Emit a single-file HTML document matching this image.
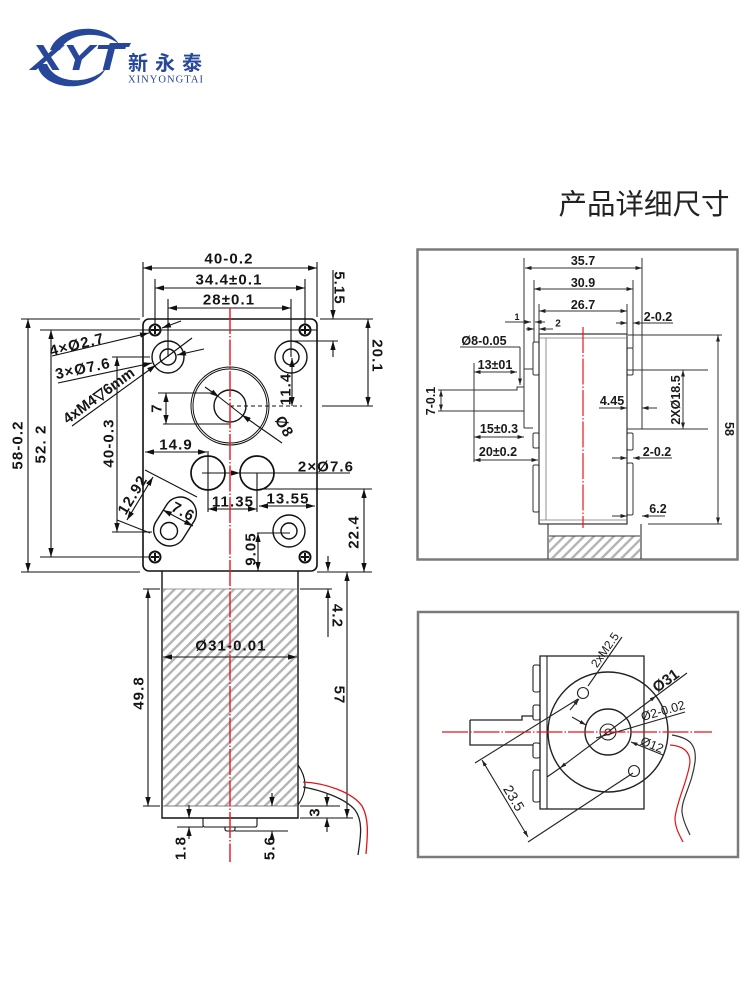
<!DOCTYPE html>
<html><head><meta charset="utf-8">
<style>
html,body{margin:0;padding:0;background:#fff;}
svg{display:block;}
.d text{font-family:"Liberation Sans",sans-serif;font-weight:bold;font-size:15px;fill:#151515;text-anchor:middle;dominant-baseline:central;letter-spacing:1.1px}
.s text{font-family:"Liberation Sans",sans-serif;font-weight:bold;font-size:12.5px;fill:#1a1a1a;text-anchor:middle;dominant-baseline:central}
.r{font-family:"Liberation Sans",sans-serif;font-size:12.5px;fill:#1a1a1a;text-anchor:middle;dominant-baseline:central}
.b2{marker-start:url(#a);marker-end:url(#a)}
.e{marker-end:url(#a)}
.c2{marker-start:url(#b);marker-end:url(#b)}
.f{marker-end:url(#b)}
</style></head><body>
<svg width="750" height="1000" viewBox="0 0 750 1000" xmlns="http://www.w3.org/2000/svg">
<defs>
<marker id="a" viewBox="0 0 10 6" refX="10" refY="3" markerWidth="9" markerHeight="5.4" markerUnits="userSpaceOnUse" orient="auto-start-reverse"><path d="M0,0L10,3L0,6z" fill="#111"/></marker>
<marker id="b" viewBox="0 0 10 6" refX="10" refY="3" markerWidth="6.5" markerHeight="3.9" markerUnits="userSpaceOnUse" orient="auto-start-reverse"><path d="M0,0L10,3L0,6z" fill="#222"/></marker>
<pattern id="h" width="7" height="7" patternUnits="userSpaceOnUse" patternTransform="rotate(45)"><rect width="7" height="7" fill="#fff"/><rect width="2.4" height="7" fill="#b4b4b4"/></pattern>
</defs>

<!-- LOGO -->
<g fill="#27479b">
<path d="M50,50 C58,26 104,20 119,44 C102,31 70,31 60,50 Z"/>
<path d="M37,64 C42,92 94,94 106,68 C92,84 56,86 47,64 Z"/>
<text x="31" y="70" font-family="Liberation Sans, sans-serif" font-weight="bold" font-style="italic" font-size="36" textLength="92" lengthAdjust="spacingAndGlyphs">XYT</text>
<polygon points="110,43 131,43 129,47 108,47"/>
<text x="128" y="70" font-family="Liberation Sans, 'Noto Sans CJK SC', sans-serif" font-size="20" font-weight="bold" textLength="74">新永泰</text>
<text x="128" y="82.5" font-family="Liberation Serif, serif" font-size="10.5" textLength="75">XINYONGTAI</text>
</g>

<text x="644" y="205" font-family="Liberation Sans, 'Noto Sans CJK SC', sans-serif" font-size="28.5" fill="#222" text-anchor="middle" dominant-baseline="central">产品详细尺寸</text>

<!-- LEFT DRAWING -->
<rect x="163" y="589" width="134" height="217" fill="url(#h)"/>
<g stroke="#111" stroke-width="1.1" fill="none">
<path d="M143,262V317 M317,262V317 M155,279V324 M305,279V324 M168,299V357 M291,299V357
M21,319H140 M320,319H373 M40,330H317 M293,341H338 M112,357H150 M322,406H373 M158,393H214 M163,424H230 M260,489H372 M112,532H152 M257,533H290 M40,557H149 M21,572H140 M317,572H372
M208,451V512 M257,473V512 M240,473H350 M145,470L197,497 M117,520L150,533"/>
<path d="M230,406H302" stroke-dasharray="4 3"/>
<rect x="143" y="319" width="174" height="252" rx="6" stroke-width="1.6"/>
<g stroke-width="2">
<circle cx="155" cy="330" r="5.5"/><circle cx="305" cy="330" r="5.5"/><circle cx="155" cy="557" r="5.5"/><circle cx="305" cy="557" r="5.5"/>
<path d="M151,330H159M155,326V334 M301,330H309M305,326V334 M151,557H159M155,553V561 M301,557H309M305,553V561"/>
</g>
<g stroke-width="1.4">
<circle cx="168" cy="357" r="16"/><circle cx="168" cy="357" r="8"/>
<circle cx="291" cy="357" r="16"/><circle cx="291" cy="357" r="8"/>
<circle cx="289" cy="531" r="16"/><circle cx="289" cy="531" r="8"/>
<circle cx="208" cy="473" r="17" stroke-width="1.7"/><circle cx="257" cy="473" r="17" stroke-width="1.7"/>
<circle cx="230" cy="406" r="39" stroke-width="1"/><circle cx="230" cy="406" r="37" stroke-width="1"/>
<circle cx="230" cy="406" r="16"/>
<path d="M167.5,503.5 A16,16 0 0 1 194.5,520.5 L182.5,539.5 A16,16 0 0 1 155.5,522.5 Z"/>
<circle cx="169" cy="531" r="8.5"/>
</g>
<line class="b2" x1="143" y1="268" x2="317" y2="268"/>
<line class="b2" x1="155" y1="288" x2="305" y2="288"/>
<line class="b2" x1="168" y1="308" x2="291" y2="308"/>
<line class="e" x1="333" y1="270" x2="333" y2="319"/>
<line class="e" x1="333" y1="357" x2="333" y2="341"/>
<line class="b2" x1="368" y1="319" x2="368" y2="406"/>
<line class="b2" x1="292" y1="358" x2="292" y2="406"/>
<line class="b2" x1="166" y1="393" x2="166" y2="424"/>
<line class="b2" x1="28" y1="319" x2="28" y2="572"/>
<line class="b2" x1="51" y1="330" x2="51" y2="557"/>
<line class="b2" x1="117" y1="357" x2="117" y2="532"/>
<line class="b2" x1="145" y1="452" x2="207" y2="452"/>
<line class="e" x1="202" y1="473" x2="240" y2="473"/>
<line class="b2" x1="208" y1="509" x2="257" y2="509"/>
<line class="b2" x1="259" y1="506" x2="315" y2="506"/>
<line class="b2" x1="364" y1="489" x2="364" y2="572"/>
<line class="b2" x1="258" y1="533" x2="258" y2="571"/>
<line class="b2" x1="153" y1="477" x2="127" y2="520"/>
<line class="b2" x1="163" y1="510" x2="193" y2="526"/>
<line class="e" x1="52" y1="356" x2="149" y2="333"/>
<line class="e" x1="181" y1="321" x2="162" y2="328"/>
<line class="e" x1="58" y1="383" x2="152" y2="363"/>
<line class="e" x1="72" y1="426" x2="156" y2="365"/>
<line x1="156" y1="365" x2="192" y2="338"/>
<line class="e" x1="204" y1="349" x2="177" y2="355"/>
<line class="e" x1="205" y1="387" x2="219" y2="397"/>
<line x1="219" y1="397" x2="242" y2="415"/>
<line class="e" x1="282" y1="443" x2="242" y2="415"/>
<!-- motor -->
<path d="M162,571V818H298V571" stroke-width="1.4"/>
<path d="M163,589H297" stroke="#999"/>
<path d="M162,806H298" stroke="#555" stroke-width="0.8"/>
<path d="M203,818V825Q203,827 205,827H255Q257,827 257,825V818 M225,827V829Q225,831 227,831H233Q235,831 235,829V827"/>
<path d="M177,827H203 M235,831H288 M143,589H160 M143,806H160 M300,589H332 M300,806H340 M300,818H353" stroke-width="0.9"/>
<path d="M298,765Q312,785 298,805"/>
<line class="b2" x1="148" y1="589" x2="148" y2="806"/>
<line class="b2" x1="163" y1="657" x2="297" y2="657"/>
<line class="e" x1="328" y1="556" x2="328" y2="571"/>
<line class="e" x1="328" y1="637" x2="328" y2="589"/>
<line class="b2" x1="347" y1="572" x2="347" y2="818"/>
<line class="e" x1="327" y1="793" x2="327" y2="806"/>
<line class="e" x1="327" y1="832" x2="327" y2="818"/>
<line class="e" x1="189" y1="805" x2="189" y2="818"/>
<line class="e" x1="189" y1="839" x2="189" y2="827"/>
<line class="e" x1="272" y1="793" x2="272" y2="806"/>
<line class="e" x1="272" y1="839" x2="272" y2="831"/>
<path d="M303,787 C320,790 345,798 355,810 C364,822 360,840 358,855" stroke="#222" stroke-width="1.3"/>
<path d="M303,782 C325,783 352,792 362,806 C370,820 367,840 366,854" stroke="#e0141c" stroke-width="1.3"/>
</g>
<line x1="230" y1="308" x2="230" y2="862" stroke="#e8141c" stroke-width="1.4" stroke-dasharray="26 2 1.5 2"/>

<g class="d">
<text x="229" y="259">40-0.2</text>
<text x="229" y="280">34.4±0.1</text>
<text x="229" y="300">28±0.1</text>
<text transform="translate(339,288) rotate(90)">5.15</text>
<text transform="translate(377,356) rotate(90)">20.1</text>
<text transform="translate(286,389) rotate(-90)">11.4</text>
<text transform="translate(157,408) rotate(-90)">7</text>
<text transform="translate(284,427) rotate(60)">Ø8</text>
<text transform="translate(18,445) rotate(-90)">58-0.2</text>
<text transform="translate(41,444) rotate(-90)">52. 2</text>
<text transform="translate(109,443) rotate(-90)">40-0.3</text>
<text x="176" y="445">14.9</text>
<text x="326" y="467">2×Ø7.6</text>
<text x="233" y="502">11.35</text>
<text x="288" y="499">13.55</text>
<text transform="translate(354,532) rotate(-90)">22.4</text>
<text transform="translate(251,549) rotate(-90)">9.05</text>
<text transform="translate(133,495) rotate(-59)">12.92</text>
<text transform="translate(183,512) rotate(28)">7.6</text>
<text transform="translate(77,345) rotate(-14)">4×Ø2.7</text>
<text transform="translate(83,369) rotate(-12)">3×Ø7.6</text>
<text transform="translate(99,396) rotate(-36)" style="letter-spacing:0">4xM4▽6mm</text>
<text transform="translate(139,693) rotate(-90)">49.8</text>
<text x="231" y="646">Ø31-0.01</text>
<text transform="translate(337,616) rotate(90)">4.2</text>
<text transform="translate(339,695) rotate(90)">57</text>
<text transform="translate(315,812) rotate(-90)">3</text>
<text transform="translate(181,848) rotate(-90)">1.8</text>
<text transform="translate(270,848) rotate(-90)">5.6</text>
</g>

<!-- RIGHT TOP BOX -->
<rect x="417.5" y="249.5" width="320" height="310" fill="none" stroke="#7a7a7a" stroke-width="2.5"/>
<rect x="549" y="536" width="91" height="22" fill="url(#h)"/>
<g stroke="#333" stroke-width="1" fill="none">
<rect x="539" y="334" width="88" height="190" stroke-width="1.2"/>
<path d="M539,338H627 M546,338V520 M539,520H627" stroke="#777" stroke-width="0.8"/>
<rect x="533" y="342" width="6" height="33" rx="1.5"/>
<rect x="533" y="433" width="6" height="15" rx="1.5"/>
<rect x="533" y="465" width="6" height="47" rx="1.5"/>
<rect x="627" y="348" width="6" height="27" rx="1.5"/>
<rect x="627" y="433" width="6" height="17" rx="1.5"/>
<rect x="627" y="463" width="6" height="52" rx="1.5"/>
<path d="M627,370H708 M627,429H708 M642,258V429 M628,335H722 M648,524H722
M524,258V369 M534,280V342 M633,280V348 M539,304V334 M627,304V334
M438,390H517V387H524 M438,411H524 M524,369V428 M524,369H533 M524,428H533 M474,363V462"/>
<path d="M548,524V559 M641,524V559 M549,536H640" stroke-width="1.1"/>
<line class="c2" x1="525" y1="268" x2="642" y2="268"/>
<line class="c2" x1="534" y1="289" x2="633" y2="289"/>
<line class="c2" x1="539" y1="311" x2="627" y2="311"/>
<line class="f" x1="505" y1="322" x2="531" y2="322"/>
<line class="f" x1="545" y1="322" x2="535" y2="322"/>
<line class="f" x1="526" y1="329" x2="534" y2="329"/>
<line class="f" x1="553" y1="329" x2="539" y2="329"/>
<line class="f" x1="616" y1="323" x2="627" y2="323"/>
<line class="f" x1="673" y1="323" x2="633" y2="323"/>
<line class="f" x1="599" y1="408" x2="627" y2="408"/>
<line class="f" x1="657" y1="408" x2="642" y2="408"/>
<line class="f" x1="612" y1="458" x2="627" y2="458"/>
<line class="f" x1="672" y1="458" x2="633" y2="458"/>
<line class="f" x1="612" y1="516" x2="627" y2="516"/>
<line class="f" x1="665" y1="516" x2="642" y2="516"/>
<line class="c2" x1="683" y1="370" x2="683" y2="429"/>
<line class="c2" x1="718" y1="335" x2="718" y2="524"/>
<line class="c2" x1="441" y1="390" x2="441" y2="411"/>
<path d="M460,347H520"/>
<line class="f" x1="520" y1="347" x2="520" y2="385"/>
<line class="c2" x1="474" y1="372" x2="517" y2="372"/>
<line class="c2" x1="474" y1="437" x2="524" y2="437"/>
<line class="c2" x1="474" y1="460" x2="538" y2="460"/>
</g>
<line x1="583" y1="327" x2="583" y2="528" stroke="#e8141c" stroke-width="1.2" stroke-dasharray="26 2 1.5 2"/>
<g class="s">
<text x="583" y="261">35.7</text>
<text x="583" y="283">30.9</text>
<text x="583" y="305">26.7</text>
<text x="517" y="317" style="font-size:9px">1</text>
<text x="558" y="324" style="font-size:10px">2</text>
<text x="658" y="317">2-0.2</text>
<text x="484" y="341">Ø8-0.05</text>
<text x="495" y="365">13±01</text>
<text transform="translate(431,401) rotate(-90)">7-0.1</text>
<text x="612" y="401">4.45</text>
<text transform="translate(676,400) rotate(-90)">2XØ18.5</text>
<text transform="translate(729,429) rotate(90)">58</text>
<text x="499" y="429">15±0.3</text>
<text x="498" y="452">20±0.2</text>
<text x="657" y="452">2-0.2</text>
<text x="658" y="509">6.2</text>
</g>

<!-- RIGHT BOTTOM BOX -->
<rect x="418" y="612" width="320" height="245" fill="none" stroke="#7a7a7a" stroke-width="2.5"/>
<g stroke="#222" stroke-width="1.1" fill="none">
<rect x="540" y="656" width="104" height="153" stroke-width="1.3"/>
<path d="M547,656V809"/>
<rect x="533" y="665" width="7" height="27" rx="2"/>
<rect x="533" y="705" width="7" height="15" rx="2"/>
<rect x="533" y="743" width="7" height="15" rx="2"/>
<rect x="533" y="770" width="7" height="32" rx="2"/>
<path d="M470,720H522V716H533 M470,720V745H533" stroke-width="1.3"/>
<circle cx="608" cy="732" r="60" stroke-width="1.4"/>
<circle cx="608" cy="732" r="23" stroke-width="1.4"/>
<circle cx="608" cy="732" r="8"/>
<circle cx="608" cy="732" r="3"/>
<circle cx="583" cy="693" r="5.5"/>
<circle cx="634" cy="771" r="5.5"/>
<line x1="622" y1="637" x2="588" y2="686"/>
<line class="f" x1="570" y1="710" x2="579" y2="699"/>
<line x1="547" y1="777" x2="560" y2="768"/>
<line class="c2" x1="560" y1="768" x2="656" y2="696"/>
<line x1="656" y1="696" x2="687" y2="673"/>
<line x1="596" y1="738" x2="685" y2="712"/>
<line class="f" x1="572" y1="717" x2="586" y2="725"/>
<line class="f" x1="663" y1="755" x2="631" y2="742"/>
<line x1="475" y1="763" x2="578" y2="699"/>
<line x1="528" y1="842" x2="633" y2="773"/>
<line class="c2" x1="482" y1="760" x2="528" y2="837"/>
<path d="M672,735 C690,738 697,745 695,762 C692,785 681,800 682,812 C683,822 688,830 690,835" stroke="#333" stroke-width="1.2"/>
<path d="M670,745 C684,746 690,752 690,762 C688,780 677,800 675,818 C675,828 680,836 683,842" stroke="#e0141c" stroke-width="1.2"/>
</g>
<line x1="442" y1="732" x2="712" y2="732" stroke="#e8141c" stroke-width="1.2" stroke-dasharray="26 2 1.5 2"/>
<text class="r" transform="translate(666,681) rotate(-36)" style="font-size:15px;font-weight:bold">Ø31</text>
<text class="r" transform="translate(663,711) rotate(-16)">Ø2-0.02</text>
<text class="r" transform="translate(652,745) rotate(22)">Ø12</text>
<text class="r" transform="translate(605,650) rotate(-55)" style="font-size:12px">2xM2.5</text>
<text class="r" transform="translate(514,798) rotate(59)" style="font-size:14px">23.5</text>
</svg>
</body></html>
